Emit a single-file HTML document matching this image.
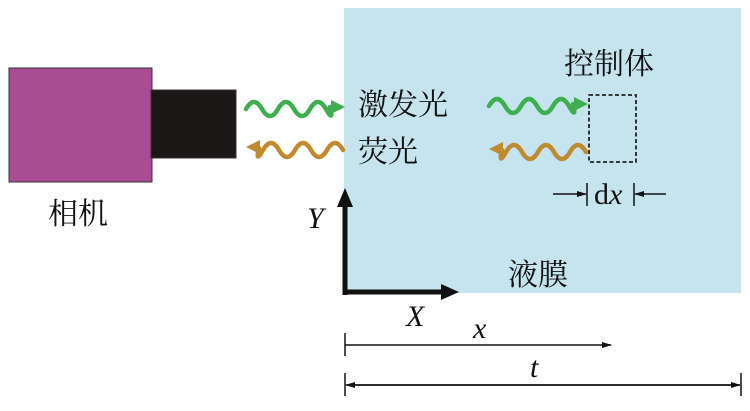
<!DOCTYPE html>
<html><head><meta charset="utf-8"><style>
body{margin:0;background:#fff}
svg text{font-family:"Liberation Serif","Noto Serif CJK SC",serif}
.cj{font-family:"Liberation Serif","Noto Serif CJK SC",serif}
</style></head><body>
<svg width="750" height="406" viewBox="0 0 750 406" xmlns="http://www.w3.org/2000/svg">
<defs>
<marker id="ah" viewBox="0 0 10 10" refX="9" refY="5" markerWidth="10" markerHeight="10" markerUnits="userSpaceOnUse" orient="auto"><path d="M0,2 L10,5 L0,8z" fill="#111"/></marker>
</defs>
<rect x="344" y="8" width="397" height="285" fill="#c6e4ee"/>
<rect x="9" y="68" width="143" height="114" fill="#a94c93" stroke="#333" stroke-width="1"/>
<rect x="151" y="90" width="85" height="68" fill="#1a1716" stroke="#333" stroke-width="1"/>
<g fill="none" stroke="#3fae4f" stroke-width="4.5" stroke-linecap="round">
<path d="M246,109 q8,-14 16,0 t16,0 t16,0 t16,0 t16,0 t4,-2"/>
<path d="M489,106 q8,-14 16,0 t16,0 t16,0 t16,0 t16,0 t4,-2"/>
</g>
<path d="M331,100 L345,107 L331,114z" fill="#3fae4f"/>
<path d="M574,97 L588,104 L574,111z" fill="#3fae4f"/>
<g fill="none" stroke="#c08b2f" stroke-width="4.5" stroke-linecap="round">
<path d="M343,150 q-8,-14 -16,0 t-16,0 t-16,0 t-16,0 t-16,0 t-4,-2"/>
<path d="M586,152 q-8,-14 -16,0 t-16,0 t-16,0 t-16,0 t-16,0 t-4,-2"/>
</g>
<path d="M260,140 L246,147 L260,154z" fill="#c08b2f"/>
<path d="M503,142 L489,149 L503,156z" fill="#c08b2f"/>
<rect x="589" y="95" width="47" height="67" fill="none" stroke="#222" stroke-width="1.8" stroke-dasharray="4,2.5"/>
<g stroke="#111" stroke-width="1.5">
<line x1="587" y1="183" x2="587" y2="206"/><line x1="634" y1="183" x2="634" y2="206"/>
<line x1="553" y1="194" x2="586" y2="194" marker-end="url(#ah)"/>
<line x1="666" y1="194" x2="635" y2="194" marker-end="url(#ah)"/>
</g>
<text x="594" y="204" font-size="30" fill="#111">d<tspan font-style="italic">x</tspan></text>
<line x1="345" y1="295" x2="345" y2="205" stroke="#111" stroke-width="5"/>
<path d="M337,207 L345,188 L353,207z" fill="#111"/>
<line x1="343" y1="292" x2="443" y2="292" stroke="#111" stroke-width="5"/>
<path d="M441,284 L459,292 L441,300z" fill="#111"/>
<text x="307" y="228" font-size="30" font-style="italic" fill="#111">Y</text>
<text x="406" y="326" font-size="30" font-style="italic" fill="#111">X</text>
<g stroke="#111" stroke-width="1.5">
<line x1="345" y1="333" x2="345" y2="356"/>
<line x1="345" y1="345" x2="611" y2="345" marker-end="url(#ah)"/>
<line x1="345" y1="373" x2="345" y2="396"/><line x1="741" y1="373" x2="741" y2="396"/>
<line x1="347" y1="385" x2="740" y2="385" marker-end="url(#ah)"/>
<line x1="739" y1="385" x2="346" y2="385" marker-end="url(#ah)"/>
</g>
<text x="473" y="338" font-size="30" font-style="italic" fill="#111">x</text>
<text x="530" y="377" font-size="30" font-style="italic" fill="#111">t</text>
<g class="cj" font-size="30" fill="#111">
<text x="358" y="115">激发光</text>
<text x="358" y="162">荧光</text>
<text x="564" y="74">控制体</text>
<text x="48" y="224">相机</text>
<text x="508" y="285">液膜</text>
</g>
</svg>
</body></html>
